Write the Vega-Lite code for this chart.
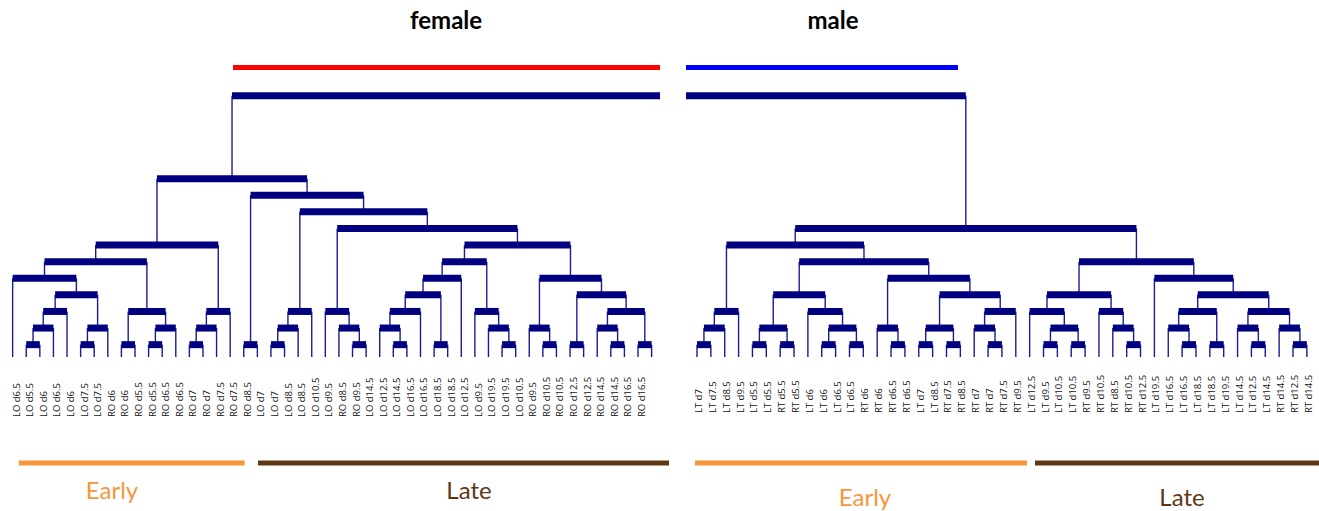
{
  "$schema": "https://vega.github.io/schema/vega-lite/v6.json",
  "padding": 0,
  "spacing": 0,
  "config": {"view": {"stroke": null}},
  "datasets": {
    "f_nodes": [
      {"node":"a1","x1":2,"hl":0,"x2":3,"hr":0,"h":0.75},
      {"node":"a2","x1":2.5,"hl":0.75,"x2":4,"hr":0,"h":1.75},
      {"node":"a3","x1":3.25,"hl":1.75,"x2":5,"hr":0,"h":2.75},
      {"node":"a4","x1":6,"hl":0,"x2":7,"hr":0,"h":0.75},
      {"node":"a5","x1":6.5,"hl":0.75,"x2":8,"hr":0,"h":1.75},
      {"node":"a6","x1":4.125,"hl":2.75,"x2":7.25,"hr":1.75,"h":3.75},
      {"node":"a7","x1":1,"hl":0,"x2":5.6875,"hr":3.75,"h":4.75},
      {"node":"b1","x1":9,"hl":0,"x2":10,"hr":0,"h":0.75},
      {"node":"b2","x1":11,"hl":0,"x2":12,"hr":0,"h":0.75},
      {"node":"b3","x1":11.5,"hl":0.75,"x2":13,"hr":0,"h":1.75},
      {"node":"b4","x1":9.5,"hl":0.75,"x2":12.25,"hr":1.75,"h":2.75},
      {"node":"I","x1":3.3438,"hl":4.75,"x2":10.875,"hr":2.75,"h":5.75},
      {"node":"c1","x1":14,"hl":0,"x2":15,"hr":0,"h":0.75},
      {"node":"c2","x1":14.5,"hl":0.75,"x2":16,"hr":0,"h":1.75},
      {"node":"c3","x1":15.25,"hl":1.75,"x2":17,"hr":0,"h":2.75},
      {"node":"J","x1":7.1094,"hl":5.75,"x2":16.125,"hr":2.75,"h":6.75},
      {"node":"d1","x1":18,"hl":0,"x2":19,"hr":0,"h":0.75},
      {"node":"e1","x1":20,"hl":0,"x2":21,"hr":0,"h":0.75},
      {"node":"e2","x1":20.5,"hl":0.75,"x2":22,"hr":0,"h":1.75},
      {"node":"e3","x1":21.25,"hl":1.75,"x2":23,"hr":0,"h":2.75},
      {"node":"f1","x1":26,"hl":0,"x2":27,"hr":0,"h":0.75},
      {"node":"f2","x1":25,"hl":0,"x2":26.5,"hr":0.75,"h":1.75},
      {"node":"f3","x1":24,"hl":0,"x2":25.75,"hr":1.75,"h":2.75},
      {"node":"g1","x1":29,"hl":0,"x2":30,"hr":0,"h":0.75},
      {"node":"g2","x1":28,"hl":0,"x2":29.5,"hr":0.75,"h":1.75},
      {"node":"g3","x1":28.75,"hl":1.75,"x2":31,"hr":0,"h":2.75},
      {"node":"gA","x1":32,"hl":0,"x2":33,"hr":0,"h":0.75},
      {"node":"g4","x1":29.875,"hl":2.75,"x2":32.5,"hr":0.75,"h":3.75},
      {"node":"g5","x1":31.1875,"hl":3.75,"x2":34,"hr":0,"h":4.75},
      {"node":"h1","x1":37,"hl":0,"x2":38,"hr":0,"h":0.75},
      {"node":"h2","x1":36,"hl":0,"x2":37.5,"hr":0.75,"h":1.75},
      {"node":"h3","x1":35,"hl":0,"x2":36.75,"hr":1.75,"h":2.75},
      {"node":"g6","x1":32.5938,"hl":4.75,"x2":35.875,"hr":2.75,"h":5.75},
      {"node":"i1","x1":40,"hl":0,"x2":41,"hr":0,"h":0.75},
      {"node":"i2","x1":39,"hl":0,"x2":40.5,"hr":0.75,"h":1.75},
      {"node":"iA","x1":42,"hl":0,"x2":43,"hr":0,"h":0.75},
      {"node":"iB","x1":45,"hl":0,"x2":46,"hr":0,"h":0.75},
      {"node":"iC","x1":44,"hl":0,"x2":45.5,"hr":0.75,"h":1.75},
      {"node":"iD","x1":47,"hl":0,"x2":48,"hr":0,"h":0.75},
      {"node":"i3","x1":44.75,"hl":1.75,"x2":47.5,"hr":0.75,"h":2.75},
      {"node":"i4","x1":42.5,"hl":0.75,"x2":46.125,"hr":2.75,"h":3.75},
      {"node":"i5","x1":39.75,"hl":1.75,"x2":44.3125,"hr":3.75,"h":4.75},
      {"node":"g7","x1":34.2344,"hl":5.75,"x2":42.0313,"hr":4.75,"h":6.75},
      {"node":"k8","x1":24.875,"hl":2.75,"x2":38.1328,"hr":6.75,"h":7.75},
      {"node":"k9","x1":22.125,"hl":2.75,"x2":31.5039,"hr":7.75,"h":8.75},
      {"node":"k10","x1":18.5,"hl":0.75,"x2":26.8145,"hr":8.75,"h":9.75},
      {"node":"root_f","x1":11.6172,"hl":6.75,"x2":22.6572,"hr":9.75,"h":10.75},
      {"node":"top","x1":17.1372,"hl":10.75,"x2":48.62,"hr":15.75,"h":15.75}
    ],
    "m_nodes": [
      {"node":"p1","x1":1,"hl":0,"x2":2,"hr":0,"h":0.75},
      {"node":"p2","x1":1.5,"hl":0.75,"x2":3,"hr":0,"h":1.75},
      {"node":"ma","x1":2.25,"hl":1.75,"x2":4,"hr":0,"h":2.75},
      {"node":"q1","x1":5,"hl":0,"x2":6,"hr":0,"h":0.75},
      {"node":"q2","x1":7,"hl":0,"x2":8,"hr":0,"h":0.75},
      {"node":"q3","x1":5.5,"hl":0.75,"x2":7.5,"hr":0.75,"h":1.75},
      {"node":"r1","x1":10,"hl":0,"x2":11,"hr":0,"h":0.75},
      {"node":"r2","x1":12,"hl":0,"x2":13,"hr":0,"h":0.75},
      {"node":"r3","x1":10.5,"hl":0.75,"x2":12.5,"hr":0.75,"h":1.75},
      {"node":"mb","x1":9,"hl":0,"x2":11.5,"hr":1.75,"h":2.75},
      {"node":"md","x1":6.5,"hl":1.75,"x2":10.25,"hr":2.75,"h":3.75},
      {"node":"s1","x1":15,"hl":0,"x2":16,"hr":0,"h":0.75},
      {"node":"s2","x1":14,"hl":0,"x2":15.5,"hr":0.75,"h":1.75},
      {"node":"t1","x1":17,"hl":0,"x2":18,"hr":0,"h":0.75},
      {"node":"t2","x1":19,"hl":0,"x2":20,"hr":0,"h":0.75},
      {"node":"t3","x1":17.5,"hl":0.75,"x2":19.5,"hr":0.75,"h":1.75},
      {"node":"u1","x1":22,"hl":0,"x2":23,"hr":0,"h":0.75},
      {"node":"u2","x1":21,"hl":0,"x2":22.5,"hr":0.75,"h":1.75},
      {"node":"mc","x1":21.75,"hl":1.75,"x2":24,"hr":0,"h":2.75},
      {"node":"me","x1":18.5,"hl":1.75,"x2":22.875,"hr":2.75,"h":3.75},
      {"node":"mf","x1":14.75,"hl":1.75,"x2":20.6875,"hr":3.75,"h":4.75},
      {"node":"mg","x1":8.375,"hl":3.75,"x2":17.7188,"hr":4.75,"h":5.75},
      {"node":"m7","x1":3.125,"hl":2.75,"x2":13.0469,"hr":5.75,"h":6.75},
      {"node":"v1","x1":26,"hl":0,"x2":27,"hr":0,"h":0.75},
      {"node":"v2","x1":28,"hl":0,"x2":29,"hr":0,"h":0.75},
      {"node":"v3","x1":26.5,"hl":0.75,"x2":28.5,"hr":0.75,"h":1.75},
      {"node":"na","x1":25,"hl":0,"x2":27.5,"hr":1.75,"h":2.75},
      {"node":"w1","x1":32,"hl":0,"x2":33,"hr":0,"h":0.75},
      {"node":"w2","x1":31,"hl":0,"x2":32.5,"hr":0.75,"h":1.75},
      {"node":"nb","x1":30,"hl":0,"x2":31.75,"hr":1.75,"h":2.75},
      {"node":"ne","x1":26.25,"hl":2.75,"x2":30.875,"hr":2.75,"h":3.75},
      {"node":"x1n","x1":36,"hl":0,"x2":37,"hr":0,"h":0.75},
      {"node":"x2n","x1":35,"hl":0,"x2":36.5,"hr":0.75,"h":1.75},
      {"node":"x3n","x1":38,"hl":0,"x2":39,"hr":0,"h":0.75},
      {"node":"nc","x1":35.75,"hl":1.75,"x2":38.5,"hr":0.75,"h":2.75},
      {"node":"y1n","x1":41,"hl":0,"x2":42,"hr":0,"h":0.75},
      {"node":"y2n","x1":40,"hl":0,"x2":41.5,"hr":0.75,"h":1.75},
      {"node":"z1n","x1":44,"hl":0,"x2":45,"hr":0,"h":0.75},
      {"node":"z2n","x1":43,"hl":0,"x2":44.5,"hr":0.75,"h":1.75},
      {"node":"nd","x1":40.75,"hl":1.75,"x2":43.75,"hr":1.75,"h":2.75},
      {"node":"nf","x1":37.125,"hl":2.75,"x2":42.25,"hr":2.75,"h":3.75},
      {"node":"ng","x1":34,"hl":0,"x2":39.6875,"hr":3.75,"h":4.75},
      {"node":"nh","x1":28.5625,"hl":3.75,"x2":36.8438,"hr":4.75,"h":5.75},
      {"node":"root_m","x1":8.0859,"hl":6.75,"x2":32.7031,"hr":5.75,"h":7.75},
      {"node":"top","x1":0.206,"hl":15.75,"x2":20.3945,"hr":7.75,"h":15.75}
    ],
    "f_leaves": [
      {"pos":1,"label":"LO d6.5"},{"pos":2,"label":"LO d5.5"},{"pos":3,"label":"LO d6"},{"pos":4,"label":"LO d6.5"},
      {"pos":5,"label":"LO d6"},{"pos":6,"label":"LO d7.5"},{"pos":7,"label":"LO d7.5"},{"pos":8,"label":"RO d6"},
      {"pos":9,"label":"RO d6"},{"pos":10,"label":"RO d5.5"},{"pos":11,"label":"RO d5.5"},{"pos":12,"label":"RO d6.5"},
      {"pos":13,"label":"RO d6.5"},{"pos":14,"label":"RO d7"},{"pos":15,"label":"RO d7"},{"pos":16,"label":"RO d7.5"},
      {"pos":17,"label":"RO d7.5"},{"pos":18,"label":"RO d8.5"},{"pos":19,"label":"LO d7"},{"pos":20,"label":"LO d7"},
      {"pos":21,"label":"LO d8.5"},{"pos":22,"label":"LO d8.5"},{"pos":23,"label":"LO d10.5"},{"pos":24,"label":"LO d9.5"},
      {"pos":25,"label":"RO d8.5"},{"pos":26,"label":"RO d9.5"},{"pos":27,"label":"LO d14.5"},{"pos":28,"label":"LO d12.5"},
      {"pos":29,"label":"LO d14.5"},{"pos":30,"label":"LO d16.5"},{"pos":31,"label":"LO d16.5"},{"pos":32,"label":"LO d18.5"},
      {"pos":33,"label":"LO d18.5"},{"pos":34,"label":"LO d12.5"},{"pos":35,"label":"LO d9.5"},{"pos":36,"label":"LO d19.5"},
      {"pos":37,"label":"LO d19.5"},{"pos":38,"label":"LO d10.5"},{"pos":39,"label":"RO d9.5"},{"pos":40,"label":"RO d10.5"},
      {"pos":41,"label":"RO d10.5"},{"pos":42,"label":"RO d12.5"},{"pos":43,"label":"RO d12.5"},{"pos":44,"label":"RO d14.5"},
      {"pos":45,"label":"RO d14.5"},{"pos":46,"label":"RO d16.5"},{"pos":47,"label":"RO d16.5"},{"pos":48,"label":""}
    ],
    "m_leaves": [
      {"pos":1,"label":"LT d7"},{"pos":2,"label":"LT d7.5"},{"pos":3,"label":"LT d8.5"},{"pos":4,"label":"LT d9.5"},
      {"pos":5,"label":"LT d5.5"},{"pos":6,"label":"LT d5.5"},{"pos":7,"label":"RT d5.5"},{"pos":8,"label":"RT d5.5"},
      {"pos":9,"label":"LT d6"},{"pos":10,"label":"LT d6"},{"pos":11,"label":"LT d6.5"},{"pos":12,"label":"LT d6.5"},
      {"pos":13,"label":"RT d6"},{"pos":14,"label":"RT d6"},{"pos":15,"label":"RT d6.5"},{"pos":16,"label":"RT d6.5"},
      {"pos":17,"label":"LT d7"},{"pos":18,"label":"LT d8.5"},{"pos":19,"label":"RT d7.5"},{"pos":20,"label":"RT d8.5"},
      {"pos":21,"label":"RT d7"},{"pos":22,"label":"RT d7"},{"pos":23,"label":"RT d7.5"},{"pos":24,"label":"RT d9.5"},
      {"pos":25,"label":"LT d12.5"},{"pos":26,"label":"LT d9.5"},{"pos":27,"label":"LT d10.5"},{"pos":28,"label":"LT d10.5"},
      {"pos":29,"label":"RT d9.5"},{"pos":30,"label":"RT d10.5"},{"pos":31,"label":"RT d8.5"},{"pos":32,"label":"RT d10.5"},
      {"pos":33,"label":"RT d12.5"},{"pos":34,"label":"LT d19.5"},{"pos":35,"label":"LT d16.5"},{"pos":36,"label":"LT d16.5"},
      {"pos":37,"label":"LT d18.5"},{"pos":38,"label":"LT d18.5"},{"pos":39,"label":"LT d19.5"},{"pos":40,"label":"LT d14.5"},
      {"pos":41,"label":"LT d12.5"},{"pos":42,"label":"LT d14.5"},{"pos":43,"label":"RT d14.5"},{"pos":44,"label":"RT d12.5"},
      {"pos":45,"label":"RT d14.5"}
    ],
    "f_group": [{"sex":"female","start":17.21,"end":48.62,"tx":32.88}],
    "m_group": [{"sex":"male","start":0.206,"end":19.83,"tx":10.81}],
    "f_spans": [
      {"stage":"Early","start":1.45,"end":18.06,"tx":8.31},
      {"stage":"Late","start":19.05,"end":49.28,"tx":34.57}
    ],
    "m_spans": [
      {"stage":"Early","start":0.855,"end":24.81,"tx":13.12},
      {"stage":"Late","start":25.39,"end":45.876,"tx":35.99}
    ]
  },
  "hconcat": [
    {
      "width": 672,
      "height": 511,
      "resolve": {"scale": {"color": "independent"}},
      "layer": [
        {"data": {"name": "f_nodes"}, "mark": {"type": "rule", "stroke": "#1c1c92", "strokeWidth": 1.4},
         "encoding": {
           "x": {"field": "x1", "type": "quantitative", "scale": {"domain": [0.07, 49.5], "nice": false, "zero": false}, "axis": null},
           "y": {"field": "hl", "type": "quantitative", "scale": {"domain": [-9.27, 21.51], "nice": false, "zero": false}, "axis": null},
           "y2": {"field": "h"}}},
        {"data": {"name": "f_nodes"}, "mark": {"type": "rule", "stroke": "#1c1c92", "strokeWidth": 1.4},
         "encoding": {
           "x": {"field": "x2", "type": "quantitative", "scale": {"domain": [0.07, 49.5], "nice": false, "zero": false}, "axis": null},
           "y": {"field": "hr", "type": "quantitative", "scale": {"domain": [-9.27, 21.51], "nice": false, "zero": false}, "axis": null},
           "y2": {"field": "h"}}},
        {"data": {"name": "f_nodes"}, "mark": {"type": "rule", "stroke": "#000080", "strokeWidth": 7},
         "encoding": {
           "x": {"field": "x1", "type": "quantitative", "scale": {"domain": [0.07, 49.5], "nice": false, "zero": false}, "axis": null},
           "x2": {"field": "x2"},
           "y": {"field": "h", "type": "quantitative", "scale": {"domain": [-9.27, 21.51], "nice": false, "zero": false}, "axis": null}}},
        {"data": {"name": "f_leaves"}, "mark": {"type": "text", "angle": 270, "align": "left", "baseline": "middle", "font": "Open Sans", "fontSize": 9.5, "dy": 4, "fill": "#111111"},
         "encoding": {
           "x": {"field": "pos", "type": "quantitative", "scale": {"domain": [0.07, 49.5], "nice": false, "zero": false}, "axis": null},
           "y": {"datum": -3.61, "type": "quantitative", "scale": {"domain": [-9.27, 21.51], "nice": false, "zero": false}, "axis": null},
           "text": {"field": "label"}}},
        {"data": {"name": "f_group"}, "mark": {"type": "rule", "strokeWidth": 5},
         "encoding": {
           "x": {"field": "start", "type": "quantitative", "scale": {"domain": [0.07, 49.5], "nice": false, "zero": false}, "axis": null},
           "x2": {"field": "end"},
           "y": {"datum": 17.44, "type": "quantitative", "scale": {"domain": [-9.27, 21.51], "nice": false, "zero": false}, "axis": null},
           "color": {"field": "sex", "type": "nominal", "scale": {"domain": ["female", "male"], "range": ["#ff0000", "#0000ff"]}, "legend": null}}},
        {"data": {"name": "f_group"}, "mark": {"type": "text", "font": "Lato", "fontWeight": "bold", "fontSize": 24, "baseline": "middle", "align": "center", "fill": "#000000"},
         "encoding": {
           "x": {"field": "tx", "type": "quantitative", "scale": {"domain": [0.07, 49.5], "nice": false, "zero": false}, "axis": null},
           "y": {"datum": 20.18, "type": "quantitative", "scale": {"domain": [-9.27, 21.51], "nice": false, "zero": false}, "axis": null},
           "text": {"field": "sex"}}},
        {"data": {"name": "f_spans"}, "mark": {"type": "rule", "strokeWidth": 5},
         "encoding": {
           "x": {"field": "start", "type": "quantitative", "scale": {"domain": [0.07, 49.5], "nice": false, "zero": false}, "axis": null},
           "x2": {"field": "end"},
           "y": {"datum": -6.38, "type": "quantitative", "scale": {"domain": [-9.27, 21.51], "nice": false, "zero": false}, "axis": null},
           "color": {"field": "stage", "type": "nominal", "scale": {"domain": ["Early", "Late"], "range": ["#f7963a", "#5e3814"]}, "legend": null}}},
        {"data": {"name": "f_spans"}, "mark": {"type": "text", "font": "Lato", "fontSize": 24, "baseline": "middle", "align": "center"},
         "encoding": {
           "x": {"field": "tx", "type": "quantitative", "scale": {"domain": [0.07, 49.5], "nice": false, "zero": false}, "axis": null},
           "y": {"datum": -8.13, "type": "quantitative", "scale": {"domain": [-9.27, 21.51], "nice": false, "zero": false}, "axis": null},
           "text": {"field": "stage"},
           "color": {"field": "stage", "type": "nominal", "scale": {"domain": ["Early", "Late"], "range": ["#f7963a", "#5e3814"]}, "legend": null}}}
      ]
    },
    {
      "width": 647,
      "height": 511,
      "resolve": {"scale": {"color": "independent"}},
      "layer": [
        {"data": {"name": "m_nodes"}, "mark": {"type": "rule", "stroke": "#1c1c92", "strokeWidth": 1.4},
         "encoding": {
           "x": {"field": "x1", "type": "quantitative", "scale": {"domain": [-0.804, 45.876], "nice": false, "zero": false}, "axis": null},
           "y": {"field": "hl", "type": "quantitative", "scale": {"domain": [-9.27, 21.51], "nice": false, "zero": false}, "axis": null},
           "y2": {"field": "h"}}},
        {"data": {"name": "m_nodes"}, "mark": {"type": "rule", "stroke": "#1c1c92", "strokeWidth": 1.4},
         "encoding": {
           "x": {"field": "x2", "type": "quantitative", "scale": {"domain": [-0.804, 45.876], "nice": false, "zero": false}, "axis": null},
           "y": {"field": "hr", "type": "quantitative", "scale": {"domain": [-9.27, 21.51], "nice": false, "zero": false}, "axis": null},
           "y2": {"field": "h"}}},
        {"data": {"name": "m_nodes"}, "mark": {"type": "rule", "stroke": "#000080", "strokeWidth": 7},
         "encoding": {
           "x": {"field": "x1", "type": "quantitative", "scale": {"domain": [-0.804, 45.876], "nice": false, "zero": false}, "axis": null},
           "x2": {"field": "x2"},
           "y": {"field": "h", "type": "quantitative", "scale": {"domain": [-9.27, 21.51], "nice": false, "zero": false}, "axis": null}}},
        {"data": {"name": "m_leaves"}, "mark": {"type": "text", "angle": 270, "align": "left", "baseline": "middle", "font": "Open Sans", "fontSize": 9.5, "dy": 2, "fill": "#111111"},
         "encoding": {
           "x": {"field": "pos", "type": "quantitative", "scale": {"domain": [-0.804, 45.876], "nice": false, "zero": false}, "axis": null},
           "y": {"datum": -3.37, "type": "quantitative", "scale": {"domain": [-9.27, 21.51], "nice": false, "zero": false}, "axis": null},
           "text": {"field": "label"}}},
        {"data": {"name": "m_group"}, "mark": {"type": "rule", "strokeWidth": 5},
         "encoding": {
           "x": {"field": "start", "type": "quantitative", "scale": {"domain": [-0.804, 45.876], "nice": false, "zero": false}, "axis": null},
           "x2": {"field": "end"},
           "y": {"datum": 17.44, "type": "quantitative", "scale": {"domain": [-9.27, 21.51], "nice": false, "zero": false}, "axis": null},
           "color": {"field": "sex", "type": "nominal", "scale": {"domain": ["female", "male"], "range": ["#ff0000", "#0000ff"]}, "legend": null}}},
        {"data": {"name": "m_group"}, "mark": {"type": "text", "font": "Lato", "fontWeight": "bold", "fontSize": 24, "baseline": "middle", "align": "center", "fill": "#000000"},
         "encoding": {
           "x": {"field": "tx", "type": "quantitative", "scale": {"domain": [-0.804, 45.876], "nice": false, "zero": false}, "axis": null},
           "y": {"datum": 20.18, "type": "quantitative", "scale": {"domain": [-9.27, 21.51], "nice": false, "zero": false}, "axis": null},
           "text": {"field": "sex"}}},
        {"data": {"name": "m_spans"}, "mark": {"type": "rule", "strokeWidth": 5},
         "encoding": {
           "x": {"field": "start", "type": "quantitative", "scale": {"domain": [-0.804, 45.876], "nice": false, "zero": false}, "axis": null},
           "x2": {"field": "end"},
           "y": {"datum": -6.38, "type": "quantitative", "scale": {"domain": [-9.27, 21.51], "nice": false, "zero": false}, "axis": null},
           "color": {"field": "stage", "type": "nominal", "scale": {"domain": ["Early", "Late"], "range": ["#f7963a", "#5e3814"]}, "legend": null}}},
        {"data": {"name": "m_spans"}, "mark": {"type": "text", "font": "Lato", "fontSize": 24, "baseline": "middle", "align": "center"},
         "encoding": {
           "x": {"field": "tx", "type": "quantitative", "scale": {"domain": [-0.804, 45.876], "nice": false, "zero": false}, "axis": null},
           "y": {"datum": -8.56, "type": "quantitative", "scale": {"domain": [-9.27, 21.51], "nice": false, "zero": false}, "axis": null},
           "text": {"field": "stage"},
           "color": {"field": "stage", "type": "nominal", "scale": {"domain": ["Early", "Late"], "range": ["#f7963a", "#5e3814"]}, "legend": null}}}
      ]
    }
  ]
}
